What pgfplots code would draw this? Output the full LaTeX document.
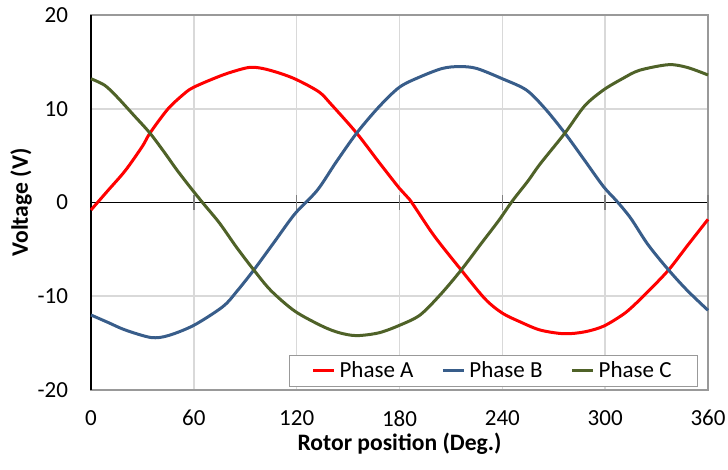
\documentclass[border=0pt]{standalone}
\usepackage{pgfplots}
\pgfplotsset{compat=1.18}
\usepackage{fontspec}
\setmainfont{Carlito}
\definecolor{phA}{RGB}{255,0,0}
\definecolor{phB}{RGB}{56,93,138}
\definecolor{phC}{RGB}{79,98,40}
\definecolor{gridc}{RGB}{217,217,217}
\begin{document}
\begin{tikzpicture}
\begin{axis}[
  scale only axis,
  width=308.5pt, height=187.5pt,
  xmin=0, xmax=360, ymin=-20, ymax=20,
  xtick={0,60,120,180,240,300,360},
  ytick={-20,-10,0,10,20},
  yticklabels={-20,-10,0,10,20},
  xticklabels={0,60,120,180,240,300,360},
  major tick length=0pt,
  grid=major,
  major grid style={gridc, line width=0.8pt},
  axis line style={gray!80, line width=0.8pt},
  tick label style={font=\fontsize{11.5}{13}\selectfont},
  xticklabel style={yshift=-6.7pt},
  yticklabel style={xshift=-8pt},
  xlabel={\textbf{Rotor position (Deg.)}},
  ylabel={\textbf{Voltage (V)}},
  label style={font=\fontsize{11.8}{13}\selectfont},
  xlabel style={at={(axis description cs:0.5,0)}, anchor=north, yshift=-17.8pt},
  ylabel style={at={([xshift=-26pt]axis description cs:0,0.5)}, anchor=south, rotate=0},
  legend style={at={(0.984,0.008)}, anchor=south east, legend columns=3,
    draw=gray!80, line width=0.6pt, font=\fontsize{11.5}{13}\selectfont,
    /tikz/every even column/.append style={column sep=12pt},
    inner xsep=11pt, inner ysep=1pt},
  legend image code/.code={\draw[#1, line width=1.5pt] (0pt,0pt) -- (10.5pt,0pt);},
  clip=false,
]
\draw[black, line width=0.6pt] (axis cs:0,0) -- (axis cs:360,0);
\draw[black, line width=0.8pt] (axis cs:0,-20) -- (axis cs:0,20);
\pgfplotsinvokeforeach{60,120,180,240,300,360}{
  \draw[gray, line width=0.8pt] (axis cs:#1,-0.8) -- (axis cs:#1,0.8);
}
\addplot[phA, line width=1.5pt, smooth, tension=0.5] coordinates {
(0,-0.8) (10,1.3) (20,3.4) (30,6.0) (34.4,7.4) (45,10.0) (55,11.7) (60,12.3)
(70,13.1) (80,13.8) (92,14.4) (100,14.3) (110,13.8) (120,13.1) (133,11.8)
(140,10.5) (155,7.4) (168,4.3) (180,1.5) (186,0.3) (200,-3.5) (216,-7.2)
(230,-10.3) (240,-11.8) (250,-12.7) (262,-13.6) (276,-14.0) (288,-13.8)
(299,-13.2) (310,-12.0) (316,-11.1) (325,-9.5) (337,-7.2) (348,-4.6) (360,-1.8)
};
\addlegendentry{Phase A}
\addplot[phB, line width=1.5pt, smooth, tension=0.5] coordinates {
(0,-12.0) (10,-12.8) (20,-13.6) (35,-14.4) (45,-14.2) (60,-13.1) (77,-11.1)
(85,-9.5) (95,-7.2) (107,-4.2) (119,-1.2) (132,1.3) (143,4.3) (155,7.4)
(168,10.2) (180,12.3) (192,13.4) (205,14.3) (215,14.5) (225,14.3) (240,13.2)
(254,12.0) (265,10.0) (276.5,7.4) (288,4.5) (299,1.7) (307,0.1) (315,-1.7)
(325,-4.5) (337,-7.2) (348,-9.4) (360,-11.5)
};
\addlegendentry{Phase B}
\addplot[phC, line width=1.5pt, smooth, tension=0.5] coordinates {
(0,13.2) (8,12.5) (15,11.3) (25,9.3) (34.4,7.4) (43,5.3) (50,3.5) (58,1.6)
(65.5,-0.1) (75,-2.2) (85,-4.8) (95,-7.2) (105,-9.4) (119,-11.6) (135,-13.2)
(145,-13.9) (155,-14.2) (168,-13.9) (180,-13.1) (192,-12.0) (204,-9.8)
(216,-7.2) (228,-4.3) (238,-1.9) (246,0.2) (255,2.3) (262,4.1) (276.5,7.4)
(288,10.3) (299,12.0) (310,13.2) (320,14.1) (337,14.7) (348,14.4) (360,13.6)
};
\addlegendentry{Phase C}
\end{axis}
\pgfresetboundingbox
\path (current axis.south west) ++(-45.5pt,-40pt) rectangle ++(364pt,235pt);
\end{tikzpicture}
\end{document}
